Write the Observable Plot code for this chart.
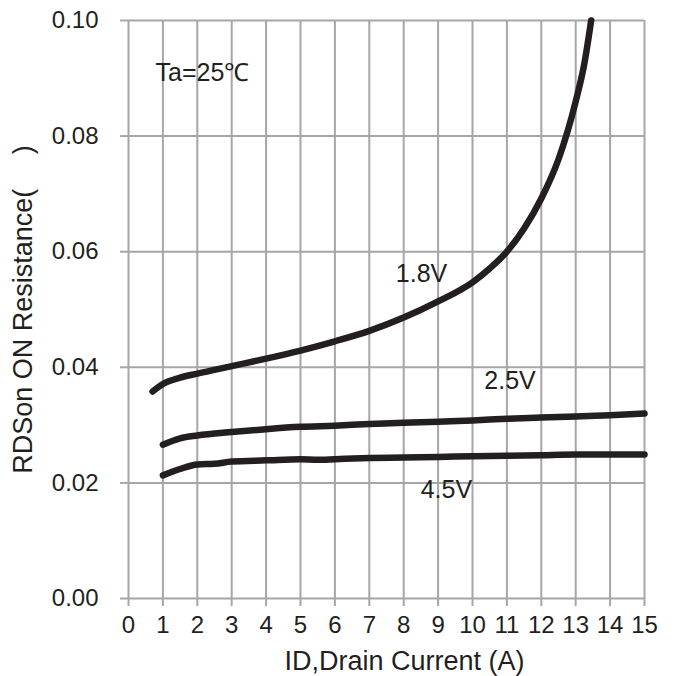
<!DOCTYPE html>
<html>
<head>
<meta charset="utf-8">
<script src="https://cdn.jsdelivr.net/npm/d3@7"></script>
<script src="https://cdn.jsdelivr.net/npm/@observablehq/plot@0.6"></script>
<style>
  html, body { margin: 0; padding: 0; background: #ffffff; }
  #chart { width: 676px; height: 676px; }
  g[aria-label="x-axis label"] text { font-size: 27px; translate: 18px 0px; }
  g[aria-label="y-axis label"] text { font-size: 27px; }
</style>
</head>
<body>
<div id="chart"></div>
<script>
// ---- data ----
const xTicks = [0, 1, 2, 3, 4, 5, 6, 7, 8, 9, 10, 11, 12, 13, 14, 15];
const yTicks = [0, 0.02, 0.04, 0.06, 0.08, 0.10];

const id18 = [0.7, 1.0, 1.5, 2, 3, 4, 5, 6, 7, 8, 9, 10, 10.5, 11, 11.5, 12, 12.5, 13, 13.25, 13.45];
const r18  = [0.0358, 0.0371, 0.0382, 0.0389, 0.0402, 0.0415, 0.0429, 0.0445, 0.0463, 0.0486, 0.0514, 0.0547, 0.0571, 0.0600, 0.0640, 0.0692, 0.0760, 0.0860, 0.0925, 0.1000];

const id25 = [1, 1.5, 2, 3, 4, 5, 6, 7, 8, 9, 10, 11, 12, 13, 14, 15];
const r25  = [0.0266, 0.0277, 0.0282, 0.0288, 0.0293, 0.0297, 0.0299, 0.0302, 0.0304, 0.0306, 0.0308, 0.0311, 0.0313, 0.0315, 0.0317, 0.0320];

const id45 = [1, 1.5, 2, 2.5, 3, 4, 5, 5.5, 6, 7, 8, 9, 10, 11, 12, 13, 14, 15];
const r45  = [0.0213, 0.0224, 0.0232, 0.0233, 0.0237, 0.0239, 0.0241, 0.0240, 0.0241, 0.0243, 0.0244, 0.0245, 0.0246, 0.0247, 0.0248, 0.0249, 0.0249, 0.0249];

const seriesNames = ["1.8V", "2.5V", "4.5V"];

const curveLabels = ["1.8V", "2.5V", "4.5V"];
const curveLabelX = [8.52, 11.09, 9.24];
const curveLabelY = [0.0561, 0.0376, 0.0187];

const noteText = ["Ta=25\u2103"];
const noteX = [0.785];
const noteY = [0.0909];

const xLabel = "ID,Drain Current (A)";
const yLabel = "RDSon ON Resistance(\u2003 )";

// ---- build tables ----
const rows = [];
[[id18, r18], [id25, r25], [id45, r45]].forEach(([xs, ys], i) => {
  xs.forEach((x, j) => rows.push({series: seriesNames[i], id: x, r: ys[j]}));
});
const labelRows = curveLabels.map((t, i) => ({t, x: curveLabelX[i], y: curveLabelY[i]}));
const noteRows = noteText.map((t, i) => ({t, x: noteX[i], y: noteY[i]}));

const gridColor = "#a6a6a8";
const ink = "#231f20";
const font = "'Liberation Sans', Arial, Helvetica, sans-serif";

const chart = Plot.plot({
  width: 676,
  height: 676,
  marginLeft: 128,
  marginRight: 32,
  marginTop: 20,
  marginBottom: 78,
  style: {fontFamily: font, color: ink, background: "#ffffff", overflow: "visible"},
  x: {domain: [0, 15]},
  y: {domain: [0, 0.1]},
  marks: [
    Plot.gridX(xTicks, {stroke: gridColor, strokeOpacity: 1, strokeWidth: 2}),
    Plot.gridY(yTicks, {stroke: gridColor, strokeOpacity: 1, strokeWidth: 2}),
    Plot.axisX({
      ticks: xTicks, tickSize: 8, tickPadding: 9, stroke: gridColor, strokeWidth: 2, strokeOpacity: 1,
      fill: ink, fontSize: 24, tickFormat: d3.format("d"),
      label: xLabel, labelAnchor: "center", labelArrow: "none", labelOffset: 71
    }),
    Plot.axisY({
      ticks: yTicks, tickSize: 8, tickPadding: 22, stroke: gridColor, strokeWidth: 2, strokeOpacity: 1,
      fill: ink, fontSize: 24, tickFormat: d3.format(".2f"),
      label: yLabel, labelAnchor: "center", labelArrow: "none", labelOffset: 116
    }),
    Plot.line(rows, {
      x: "id", y: "r", z: "series", stroke: ink, strokeWidth: 6.5,
      curve: "monotone-x", strokeLinecap: "round", strokeLinejoin: "round"
    }),
    Plot.text(labelRows, {x: "x", y: "y", text: "t", fill: ink, fontSize: 25, textAnchor: "middle"}),
    Plot.text(noteRows, {x: "x", y: "y", text: "t", fill: ink, fontSize: 25, textAnchor: "start"})
  ]
});

document.getElementById("chart").appendChild(chart);
</script>
</body>
</html>
